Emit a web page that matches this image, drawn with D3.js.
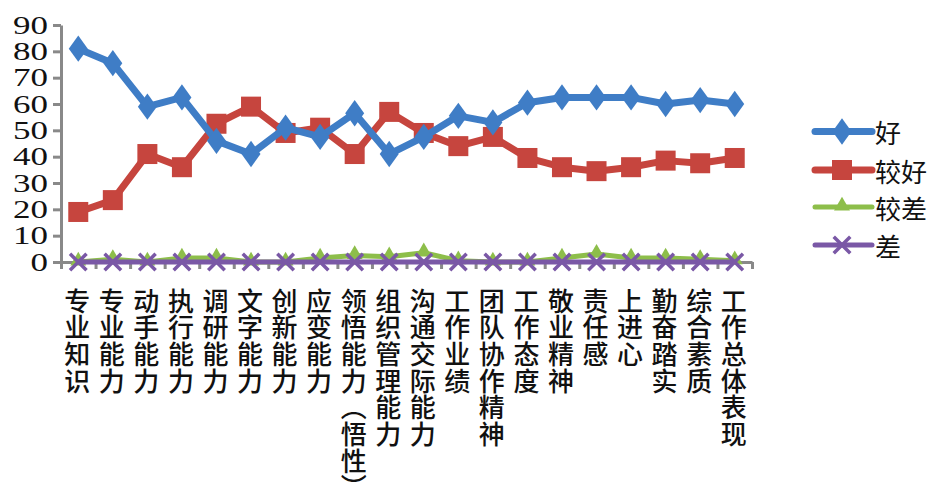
<!DOCTYPE html>
<html><head><meta charset="utf-8">
<script src="https://cdn.jsdelivr.net/npm/d3@7"></script>
<style>body{margin:0;background:#fff}svg{display:block}</style>
</head><body>
<svg id="c" width="928" height="482"></svg>
<script>
const categories = ["专业知识","专业能力","动手能力","执行能力","调研能力","文字能力","创新能力","应变能力","领悟能力（悟性）","组织管理能力","沟通交际能力","工作业绩","团队协作精神","工作态度","敬业精神","责任感","上进心","勤奋踏实","综合素质","工作总体表现"];
const good      = [81, 75.5, 59, 62.5, 46, 41, 51, 47.5, 56.5, 41, 47.5, 55.5, 53, 60.5, 62.5, 62.5, 62.5, 60, 61.5, 60];
const fairGood  = [19, 23.5, 41, 36, 52.5, 59, 49, 51, 41, 57, 49, 44, 47.5, 39.5, 36, 34.5, 36, 38.5, 37.5, 39.5];
const fairPoor  = [0, 1, 0, 1.5, 1.5, 0, 0, 1.5, 2.5, 2, 3.5, 0.5, 0, 0, 1.5, 3, 1.5, 1.5, 1, 0.5];
const poor      = [0, 0, 0, 0, 0, 0, 0, 0, 0, 0, 0, 0, 0, 0, 0, 0, 0, 0, 0, 0];
const seriesNames = ["好","较好","较差","差"];
const yTicks = [0,10,20,30,40,50,60,70,80,90];

const svg = d3.select("#c");
const L = 61, R = 752, T = 25, B = 262;
const x = d3.scaleBand().domain(categories).range([L, R]);
const xi = d3.scaleLinear().domain([0, categories.length]).range([L, R]);
const y = d3.scaleLinear().domain([0, 90]).range([B, T]);
const cx = d => x(d) + x.bandwidth()/2;

const colors = ["#3F7DC6","#C6453E","#8DBE4A","#7A58A6"];
const series = [good, fairGood, fairPoor, poor];

// Y axis
const ya = svg.append("g").attr("transform",`translate(${L},0)`)
  .call(d3.axisLeft(y).tickValues(yTicks).tickSize(8).tickSizeOuter(0).tickPadding(4));
ya.select(".domain").attr("stroke","#898989").attr("stroke-width",3);
ya.selectAll(".tick line").attr("stroke","#898989").attr("stroke-width",3);
ya.selectAll(".tick text").attr("font-family","'Liberation Serif', serif").attr("font-size",25)
  .attr("fill","#111").attr("x",0).attr("dy","0.33em")
  .attr("transform","translate(-13,0) scale(1.4,1)");

// X axis with boundary ticks
const xa = svg.append("g").attr("transform",`translate(0,${B})`)
  .call(d3.axisBottom(xi).ticks(categories.length).tickSize(7).tickSizeOuter(0).tickFormat(""));
xa.select(".domain").attr("stroke","#898989").attr("stroke-width",3);
xa.selectAll(".tick line").attr("stroke","#898989").attr("stroke-width",3);

// vertical category labels (one glyph per line, stacked)
const vmap = {"（":"︵","）":"︶"};
const lab = svg.append("g");
categories.forEach(c => {
  Array.from(c).forEach((ch, i) => {
    lab.append("text").attr("x", cx(c) - 1).attr("y", 299 + i*26.7)
      .attr("text-anchor","middle").attr("dominant-baseline","central")
      .attr("font-family","'Noto Sans CJK SC', sans-serif").attr("font-size",26).attr("font-weight",500)
      .attr("fill","#111").text(vmap[ch] || ch);
  });
});

const line = d3.line().x((d,i) => cx(categories[i])).y(d => y(d));
const widths = [7, 7, 5, 5];

function marker(g, k, px, py, col) {
  if (k === 0) {
    g.append("path").attr("d", d3.symbol(d3.symbolDiamond, 200)()).attr("transform",`translate(${px},${py}) scale(1.25,1)`).attr("fill",col);
  } else if (k === 1) {
    g.append("rect").attr("x",px-10).attr("y",py-10).attr("width",20).attr("height",20).attr("fill",col);
  } else if (k === 2) {
    g.append("path").attr("d", d3.symbol(d3.symbolTriangle, 110)()).attr("transform",`translate(${px},${py-1})`).attr("fill",col);
  } else {
    g.append("path").attr("d", d3.symbol(d3.symbolX, 180)()).attr("transform",`translate(${px},${py})`).attr("stroke",col).attr("stroke-width",3.5).attr("fill","none");
  }
}

[2,3,1,0].forEach(k => {
  const g = svg.append("g");
  g.append("path").datum(series[k]).attr("d", line).attr("fill","none")
    .attr("stroke", colors[k]).attr("stroke-width", widths[k]).attr("stroke-linejoin","round");
  series[k].forEach((v,i) => marker(g, k, cx(categories[i]), y(v), colors[k]));
});

// legend
const lg = svg.append("g");
const ly = [131.5, 170, 207, 245];
seriesNames.forEach((n,k) => {
  lg.append("line").attr("x1",815).attr("x2",872).attr("y1",ly[k]).attr("y2",ly[k])
    .attr("stroke",colors[k]).attr("stroke-width",widths[k]).attr("stroke-linecap","round");
  marker(lg, k, 842, ly[k], colors[k]);
  lg.append("text").attr("x",875).attr("y",ly[k]).attr("dominant-baseline","central")
    .attr("font-family","'Noto Sans CJK SC', sans-serif").attr("font-size",26).attr("fill","#111").text(n);
});
</script>
</body></html>
